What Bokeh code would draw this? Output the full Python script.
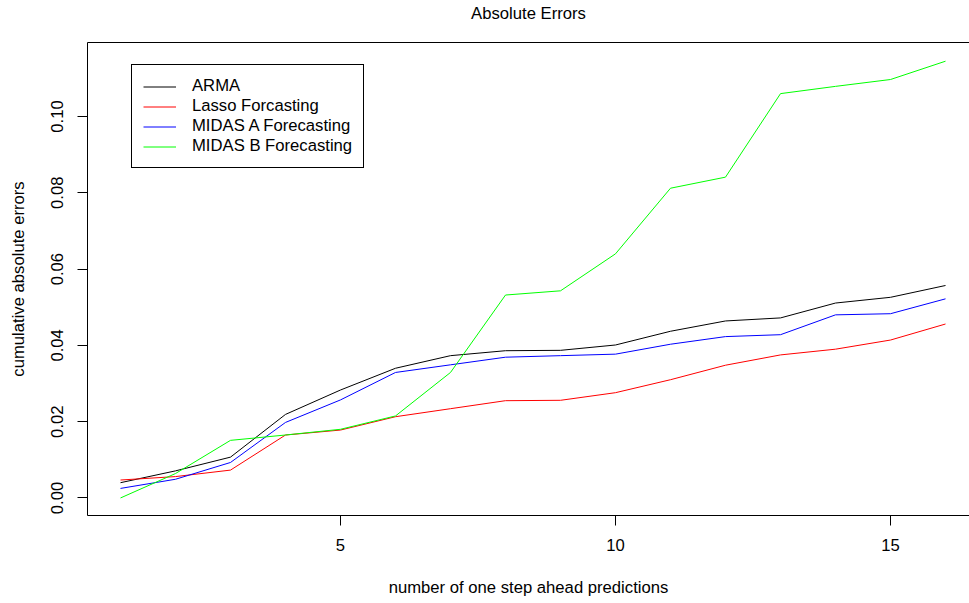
from bokeh.plotting import figure
from bokeh.models import (Range1d, FixedTicker, PrintfTickFormatter, LinearAxis,
                          Legend, LegendItem)
from bokeh.embed import file_html
from bokeh.resources import INLINE

# ---- data ----
steps = list(range(1, 17))
arma = [0.0040, 0.0071, 0.0107, 0.0219, 0.0283, 0.0340, 0.0373, 0.0386,
        0.0387, 0.0401, 0.0437, 0.0464, 0.0472, 0.0511, 0.0526, 0.0557]
lasso = [0.0047, 0.0056, 0.0073, 0.0165, 0.0178, 0.0213, 0.0234, 0.0255,
         0.0256, 0.0276, 0.0310, 0.0348, 0.0375, 0.0390, 0.0414, 0.0456]
midas_a = [0.0025, 0.0049, 0.0093, 0.0198, 0.0257, 0.0329, 0.0349, 0.0369,
           0.0373, 0.0377, 0.0403, 0.0423, 0.0428, 0.0480, 0.0483, 0.0522]
midas_b = [0.0000, 0.0064, 0.0151, 0.0165, 0.0180, 0.0215, 0.0329, 0.0532,
           0.0543, 0.0640, 0.0812, 0.0841, 0.1060, 0.1079, 0.1097, 0.1145]
series_names = ["ARMA", "Lasso Forcasting", "MIDAS A Forecasting", "MIDAS B Forecasting"]
series_colors = ["black", "#FF0000", "#0000FF", "#00FF00"]
x_ticks = [5, 10, 15]
y_ticks = [0.0, 0.02, 0.04, 0.06, 0.08, 0.10]

FONT = "Liberation Sans"
FS = "16.67px"

p = figure(width=969, height=603, output_backend="svg", toolbar_location=None,
           x_range=Range1d(0.4, 16.436), y_range=Range1d(-0.0046, 0.1194),
           min_border_left=87, min_border_right=0, min_border_top=41,
           min_border_bottom=88, x_axis_location=None, y_axis_location=None)
p.outline_line_color = None
p.xgrid.visible = False
p.ygrid.visible = False
p.background_fill_color = "white"
p.border_fill_color = "white"

renderers = []
for ys, c in zip([arma, lasso, midas_a, midas_b], series_colors):
    r = p.line(steps, ys, line_color=c, line_width=1)
    renderers.append(r)

def style_axis(ax):
    ax.axis_line_color = "black"
    ax.axis_line_width = 1
    ax.major_tick_line_color = "black"
    ax.major_tick_out = 10
    ax.major_tick_in = 0
    ax.minor_tick_out = 0
    ax.minor_tick_in = 0
    ax.major_label_text_font = FONT
    ax.major_label_text_font_size = FS
    ax.major_label_text_color = "black"
    ax.axis_label_text_font = FONT
    ax.axis_label_text_font_size = FS
    ax.axis_label_text_font_style = "normal"
    ax.axis_label_text_color = "black"

xaxis = LinearAxis(ticker=FixedTicker(ticks=x_ticks, minor_ticks=[]),
                   axis_label="number of one step ahead predictions")
style_axis(xaxis)
xaxis.major_label_standoff = 13
xaxis.axis_label_standoff = 24
p.add_layout(xaxis, "below")

yaxis = LinearAxis(ticker=FixedTicker(ticks=y_ticks, minor_ticks=[]),
                   formatter=PrintfTickFormatter(format="%.2f"),
                   axis_label="cumulative absolute errors")
style_axis(yaxis)
yaxis.major_label_orientation = "vertical"
yaxis.major_label_standoff = 14
yaxis.axis_label_standoff = 21
p.add_layout(yaxis, "left")

top = LinearAxis(ticker=FixedTicker(ticks=[], minor_ticks=[]),
                 axis_label="Absolute Errors")
style_axis(top)
top.major_tick_out = 0
top.axis_label_standoff = 20
p.add_layout(top, "above")

legend_items = [LegendItem(label=n, renderers=[r]) for n, r in zip(series_names, renderers)]
legend = Legend(items=legend_items, location=(44, 347), orientation="vertical")
legend.label_text_font = FONT
legend.label_text_font_size = FS
legend.label_text_color = "black"
legend.border_line_color = "black"
legend.border_line_width = 1
legend.border_line_alpha = 1
legend.background_fill_color = "white"
legend.background_fill_alpha = 1
legend.glyph_width = 33
legend.glyph_height = 19
legend.label_height = 19
legend.spacing = 0
legend.padding = 11
legend.margin = 0
legend.label_standoff = 16
p.add_layout(legend, "center")

open("out.html", "w").write(file_html(p, INLINE))
